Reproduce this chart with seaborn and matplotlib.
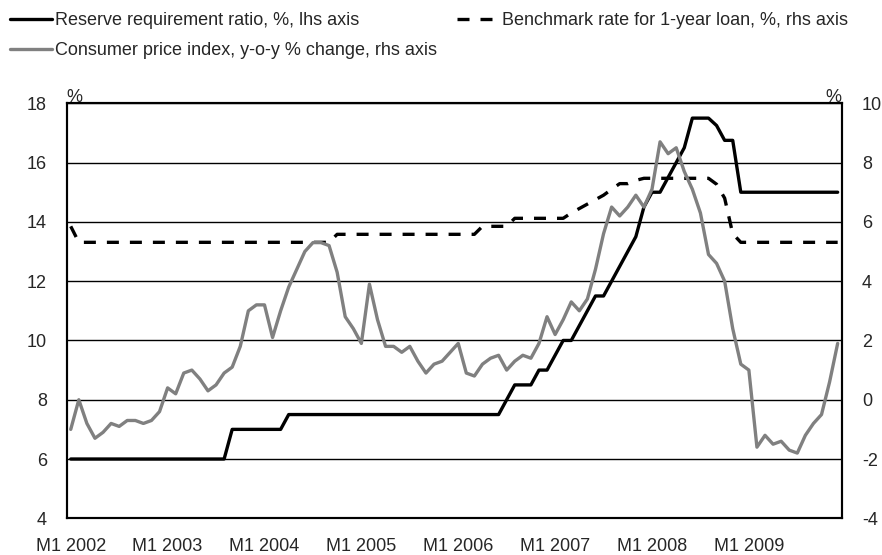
import pandas as pd
import matplotlib
matplotlib.use("Agg")
import matplotlib.pyplot as plt
import seaborn as sns

# monthly data, Jan 2002 - Dec 2009
year_labels = ["M1 2002", "M1 2003", "M1 2004", "M1 2005",
               "M1 2006", "M1 2007", "M1 2008", "M1 2009"]

# reserve requirement ratio, % (lhs)
rrr = [6, 6, 6, 6, 6, 6, 6, 6, 6, 6, 6, 6,
       6, 6, 6, 6, 6, 6, 6, 6, 7, 7, 7, 7,
       7, 7, 7, 7.5, 7.5, 7.5, 7.5, 7.5, 7.5, 7.5, 7.5, 7.5,
       7.5, 7.5, 7.5, 7.5, 7.5, 7.5, 7.5, 7.5, 7.5, 7.5, 7.5, 7.5,
       7.5, 7.5, 7.5, 7.5, 7.5, 7.5, 8, 8.5, 8.5, 8.5, 9, 9,
       9.5, 10, 10, 10.5, 11, 11.5, 11.5, 12, 12.5, 13, 13.5, 14.5,
       15, 15, 15.5, 16, 16.5, 17.5, 17.5, 17.5, 17.25, 16.75, 16.75, 15,
       15, 15, 15, 15, 15, 15, 15, 15, 15, 15, 15, 15]

# benchmark 1-year lending rate, % (rhs)
loan = [5.85, 5.31, 5.31, 5.31, 5.31, 5.31, 5.31, 5.31, 5.31, 5.31, 5.31, 5.31,
        5.31, 5.31, 5.31, 5.31, 5.31, 5.31, 5.31, 5.31, 5.31, 5.31, 5.31, 5.31,
        5.31, 5.31, 5.31, 5.31, 5.31, 5.31, 5.31, 5.31, 5.31, 5.58, 5.58, 5.58,
        5.58, 5.58, 5.58, 5.58, 5.58, 5.58, 5.58, 5.58, 5.58, 5.58, 5.58, 5.58,
        5.58, 5.58, 5.58, 5.85, 5.85, 5.85, 5.85, 6.12, 6.12, 6.12, 6.12, 6.12,
        6.12, 6.12, 6.3, 6.45, 6.6, 6.75, 6.9, 7.1, 7.29, 7.29, 7.4, 7.47,
        7.47, 7.47, 7.47, 7.47, 7.47, 7.47, 7.47, 7.47, 7.27, 6.8, 5.6, 5.31,
        5.31, 5.31, 5.31, 5.31, 5.31, 5.31, 5.31, 5.31, 5.31, 5.31, 5.31, 5.31]

# CPI y-o-y % change (rhs)
cpi = [-1.0, 0.0, -0.8, -1.3, -1.1, -0.8, -0.9, -0.7, -0.7, -0.8, -0.7, -0.4,
       0.4, 0.2, 0.9, 1.0, 0.7, 0.3, 0.5, 0.9, 1.1, 1.8, 3.0, 3.2,
       3.2, 2.1, 3.0, 3.8, 4.4, 5.0, 5.3, 5.3, 5.2, 4.3, 2.8, 2.4,
       1.9, 3.9, 2.7, 1.8, 1.8, 1.6, 1.8, 1.3, 0.9, 1.2, 1.3, 1.6,
       1.9, 0.9, 0.8, 1.2, 1.4, 1.5, 1.0, 1.3, 1.5, 1.4, 1.9, 2.8,
       2.2, 2.7, 3.3, 3.0, 3.4, 4.4, 5.6, 6.5, 6.2, 6.5, 6.9, 6.5,
       7.1, 8.7, 8.3, 8.5, 7.7, 7.1, 6.3, 4.9, 4.6, 4.0, 2.4, 1.2,
       1.0, -1.6, -1.2, -1.5, -1.4, -1.7, -1.8, -1.2, -0.8, -0.5, 0.6, 1.9]

df = pd.DataFrame({"rrr": rrr, "loan": loan, "cpi": cpi})
df["month"] = range(len(df))

sns.set_style("white")
plt.rcParams["font.family"] = ["Liberation Sans", "DejaVu Sans"]
plt.rcParams["font.size"] = 13
plt.rcParams["axes.unicode_minus"] = False

W, H = 882, 555
fig = plt.figure(figsize=(W / 100, H / 100), dpi=100)
x0, x1, y0, y1 = 66.7, 841.7, 103.3, 518.3
ax = fig.add_axes([x0 / W, 1 - y1 / H, (x1 - x0) / W, (y1 - y0) / H])
ax2 = ax.twinx()

sns.lineplot(data=df, x="month", y="rrr", ax=ax, color="black", lw=2.4)
sns.lineplot(data=df, x="month", y="loan", ax=ax2, color="black", lw=2.4)
ax2.lines[-1].set_dashes((3.6, 3.3))
sns.lineplot(data=df, x="month", y="cpi", ax=ax2, color="#808080", lw=2.4)

ax.set_xlim(-0.5, 95.5)
ax.set_ylim(4, 18)
ax2.set_ylim(-4, 10)
ax.set_yticks(range(4, 19, 2))
ax2.set_yticks(range(-4, 11, 2))
ax.set_xlabel("")
ax.set_ylabel("")
ax2.set_ylabel("")

# tick marks between categories, labels on the first month of each year
ax.set_xticks([11.5 + 12 * k for k in range(7)])
ax.set_xticklabels([])
ax.set_xticks([12 * k for k in range(8)], minor=True)
ax.set_xticklabels(year_labels, minor=True)
ax.tick_params(axis="x", which="major", direction="in", length=4.8, width=1, color="black")
ax.tick_params(axis="x", which="minor", length=0, pad=14.5, labelsize=13)
ax.tick_params(axis="y", length=0, pad=14.2, labelsize=13)
ax2.tick_params(axis="y", length=0, pad=14.6, labelsize=13)

ax.grid(axis="y", color="black", lw=1.0)
ax.grid(axis="x", visible=False)
for a in (ax, ax2):
    for s in a.spines.values():
        s.set_color("black")
        s.set_linewidth(1.5)

ax.annotate("%", xy=(0, 1), xycoords="axes fraction", xytext=(0, 1.2),
            textcoords="offset points", ha="left", va="baseline", fontsize=13)
ax.annotate("%", xy=(1, 1), xycoords="axes fraction", xytext=(0, 1.2),
            textcoords="offset points", ha="right", va="baseline", fontsize=13)

handles = [ax.lines[0], ax2.lines[1], ax2.lines[0]]
labels = ["Reserve requirement ratio, %, lhs axis",
          "Consumer price index, y-o-y % change, rhs axis",
          "Benchmark rate for 1-year loan, %, rhs axis"]
fig.legend(handles, labels, loc="upper left", bbox_to_anchor=(10 / W, 1 - 12 / H),
           ncol=2, frameon=False, borderpad=0, borderaxespad=0,
           handlelength=2.33, handletextpad=0.17, columnspacing=1.1,
           labelspacing=0.72, fontsize=13)

fig.savefig("out.png", dpi=100)
